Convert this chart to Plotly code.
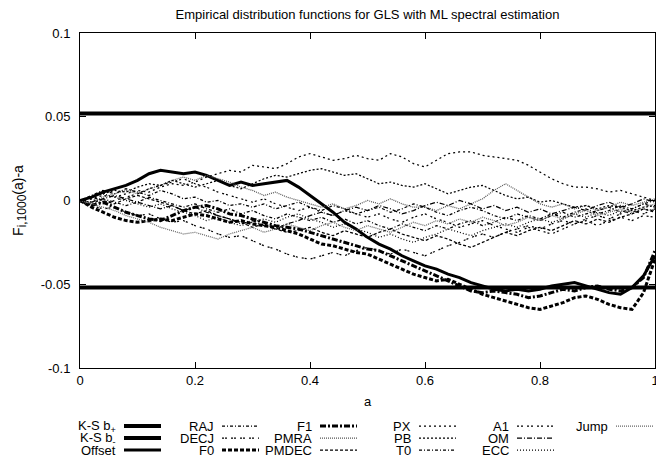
import plotly.graph_objects as go

# ---------------- data ----------------
a_vals = [round(i * 0.02, 2) for i in range(51)]

ks_names = ["K-S b<sub>+</sub>", "K-S b<sub>-</sub>"]
ks_bounds = [0.052, -0.052]

offset = [0, .002, .005, .007, .009, .012, .016, .018, .017, .016, .017, .015, .012, .009, .011, .009, .010, .011, .012, .008,
          .003, -.002, -.007, -.013, -.017, -.022, -.026, -.029, -.033, -.036, -.039, -.041, -.044, -.046, -.049, -.051,
          -.053, -.054, -.053, -.054, -.053, -.051, -.050, -.049, -.051, -.053, -.055, -.056, -.052, -.045, -.033]
f0 = [0, -.004, -.007, -.010, -.012, -.013, -.012, -.011, -.012, -.010, -.008, -.009, -.011, -.013, -.012, -.014, -.015, -.016, -.018, -.020,
      -.023, -.026, -.027, -.029, -.031, -.032, -.035, -.038, -.041, -.044, -.046, -.048, -.047, -.050, -.053, -.056,
      -.058, -.060, -.062, -.064, -.065, -.063, -.061, -.058, -.057, -.059, -.062, -.064, -.065, -.055, -.035]
f1 = [0, -.003, -.001, -.004, -.007, -.009, -.011, -.012, -.009, -.006, -.004, -.003, -.005, -.008, -.009, -.011, -.013, -.015, -.016, -.017,
      -.019, -.021, -.023, -.025, -.027, -.029, -.030, -.033, -.036, -.039, -.042, -.045, -.048, -.051, -.054, -.055,
      -.054, -.055, -.056, -.058, -.057, -.055, -.053, -.054, -.052, -.051, -.053, -.054, -.052, -.046, -.030]
raj = [0, -.002, .001, -.001, -.003, -.001, .002, .000, -.002, -.004, -.002, -.005, -.007, -.005, -.008, -.006, -.009, -.011, -.008, -.010,
       -.012, -.010, -.013, -.011, -.014, -.012, -.015, -.017, -.014, -.016, -.018, -.015, -.017, -.014, -.012, -.015,
       -.013, -.010, -.012, -.009, -.011, -.008, -.010, -.007, -.005, -.008, -.006, -.003, -.005, -.002, .000]
decj = [0, -.003, -.005, -.004, -.007, -.009, -.008, -.011, -.013, -.012, -.015, -.017, -.020, -.022, -.021, -.024, -.027, -.029, -.032, -.034,
        -.035, -.033, -.031, -.033, -.030, -.028, -.030, -.032, -.029, -.031, -.033, -.030, -.027, -.025, -.022, -.020,
        -.022, -.019, -.017, -.015, -.017, -.014, -.012, -.014, -.011, -.009, -.011, -.008, -.006, -.008, -.005]
pmra = [0, -.001, .002, .004, .006, .004, .007, .009, .012, .014, .012, .015, .013, .011, .008, .006, .003, .005, .002, .000,
        -.002, -.004, -.002, -.005, -.003, .000, -.002, .001, -.002, -.004, -.004, -.006, -.003, -.005, -.002, .001,
        .006, .010, .006, .002, -.002, -.004, -.002, -.005, -.003, -.006, -.004, -.001, -.003, -.001, .001]
pmdec = [0, .002, .000, -.002, .001, .003, .001, -.001, -.003, -.006, -.008, -.006, -.009, -.011, -.013, -.016, -.014, -.017, -.019, -.018,
         -.016, -.019, -.021, -.018, -.020, -.022, -.019, -.017, -.020, -.022, -.024, -.021, -.023, -.026, -.028, -.025,
         -.022, -.019, -.021, -.018, -.016, -.018, -.015, -.012, -.014, -.011, -.013, -.010, -.008, -.005, -.007]
px = [0, .001, .003, .002, .004, .006, .005, .008, .010, .009, .011, .014, .016, .018, .017, .021, .020, .019, .022, .026,
      .028, .026, .024, .025, .027, .025, .024, .028, .026, .022, .020, .024, .028, .029, .029, .027,
      .026, .025, .024, .021, .017, .013, .010, .008, .008, .007, .005, .006, .004, .002, .000]
pb = [0, .002, .004, .006, .005, .008, .010, .009, .012, .010, .008, .010, .012, .009, .007, .010, .013, .015, .014, .016,
      .018, .019, .017, .015, .016, .013, .010, .011, .009, .008, .010, .007, .004, .006, .008, .009,
      .006, .003, .001, .002, -.001, .000, -.002, -.004, -.003, -.005, -.003, -.004, -.006, -.004, -.003]
t0 = [0, .003, .006, .004, .007, .005, .003, .006, .004, .001, .002, -.001, .000, -.003, -.002, -.004, -.002, -.005, -.003, -.001,
      -.004, -.006, -.003, -.005, -.008, -.006, -.004, -.007, -.005, -.002, -.004, -.007, -.009, -.006, -.004, -.006,
      -.009, -.011, -.008, -.010, -.012, -.009, -.007, -.010, -.008, -.006, -.004, -.007, -.005, -.002, -.004]
a1 = [0, .001, -.002, .000, .002, .004, .007, .009, .011, .013, .010, .008, .005, .003, .001, -.001, .001, -.002, -.004, -.006,
      -.004, -.007, -.009, -.006, -.008, -.010, -.008, -.011, -.013, -.010, -.008, -.011, -.013, -.016, -.014, -.012,
      -.015, -.017, -.019, -.016, -.018, -.020, -.017, -.014, -.012, -.015, -.012, -.010, -.012, -.009, -.010]
om = [0, -.001, .001, .003, .001, -.001, -.003, -.005, -.003, -.006, -.004, -.007, -.009, -.011, -.014, -.012, -.015, -.017, -.014, -.012,
      -.009, -.007, -.009, -.006, -.004, -.006, -.003, -.005, -.008, -.006, -.003, -.001, -.003, .000, -.002, -.005,
      -.003, -.006, -.004, -.007, -.005, -.008, -.006, -.004, -.006, -.003, -.001, -.004, -.002, .001, -.001]
ecc = [0, .002, .004, .002, .000, -.002, -.004, -.002, -.005, -.007, -.009, -.012, -.010, -.013, -.015, -.013, -.011, -.013, -.010, -.008,
       -.011, -.013, -.016, -.014, -.017, -.019, -.022, -.020, -.023, -.025, -.022, -.020, -.017, -.019, -.021, -.018,
       -.016, -.014, -.016, -.013, -.011, -.013, -.011, -.008, -.010, -.007, -.009, -.006, -.008, -.005, -.006]
jump = [0, -.002, -.004, -.006, -.009, -.011, -.013, -.016, -.018, -.020, -.019, -.021, -.023, -.020, -.018, -.016, -.019, -.017, -.014, -.016,
        -.018, -.015, -.013, -.016, -.018, -.015, -.017, -.019, -.016, -.013, -.015, -.012, -.014, -.011, -.013, -.010,
        -.012, -.015, -.013, -.010, -.012, -.009, -.011, -.008, -.006, -.009, -.007, -.005, -.007, -.004, -.002]

series_names = ["Offset", "RAJ", "DECJ", "F0", "F1", "PMRA", "PMDEC", "PX", "PB", "T0", "A1", "OM", "ECC", "Jump"]
series_values = [offset, raj, decj, f0, f1, pmra, pmdec, px, pb, t0, a1, om, ecc, jump]

x_ticks = [0, 0.2, 0.4, 0.6, 0.8, 1]
x_ticktext = ["0", "0.2", "0.4", "0.6", "0.8", "1"]
y_ticks = [-0.1, -0.05, 0, 0.05, 0.1]
y_ticktext = ["-0.1", "-0.05", "0", "0.05", "0.1"]

# ---------------- styles ----------------
TW = 1.25
styles = {
    "K-S b<sub>+</sub>": dict(width=4, dash="solid", color="black"),
    "K-S b<sub>-</sub>": dict(width=4, dash="solid", color="black"),
    "Offset": dict(width=3, dash="solid", color="black"),
    "RAJ": dict(width=TW, dash="3px,2px,1px,2px", color="black"),
    "DECJ": dict(width=TW, dash="2px,1px,2px,4px", color="black"),
    "F0": dict(width=3, dash="4px,2px", color="black"),
    "F1": dict(width=3, dash="6px,2px,2px,2px", color="black"),
    "PMRA": dict(width=TW, dash="1px,1px", color="#555555"),
    "PMDEC": dict(width=TW, dash="3px,2px", color="black"),
    "PX": dict(width=TW, dash="2px,3px", color="black"),
    "PB": dict(width=TW, dash="2px,2px", color="black"),
    "T0": dict(width=TW, dash="3px,2px,1px,2px", color="black"),
    "A1": dict(width=TW, dash="2px,2px,2px,4px", color="black"),
    "OM": dict(width=TW, dash="5px,2px,1px,2px", color="black"),
    "ECC": dict(width=TW, dash="1px,2px", color="black"),
    "Jump": dict(width=TW, dash="1px,1px", color="#666666"),
}

FONT = "Liberation Sans, Arial"

# page body has an 8px margin, so the figure is drawn 8px in from the top-left
W, H = 656, 449
L, R, T, B = 72, 647, 25, 360

fig = go.Figure()

for nm, b in zip(ks_names, ks_bounds):
    fig.add_trace(go.Scatter(x=[0, 1], y=[b, b], mode="lines", name=nm,
                             line=styles[nm], showlegend=False))

for nm, vals in zip(series_names, series_values):
    fig.add_trace(go.Scatter(x=a_vals, y=vals, mode="lines", name=nm,
                             line=styles[nm], showlegend=False))

# ---------------- manual gnuplot-style key ----------------
legend_order = ["K-S b<sub>+</sub>", "K-S b<sub>-</sub>", "Offset",
                "RAJ", "DECJ", "F0",
                "F1", "PMRA", "PMDEC",
                "PX", "PB", "T0",
                "A1", "OM", "ECC",
                "Jump"]

def px_to_paper_x(p):
    return (p - L) / (R - L)

def px_to_paper_y(p):
    return (B - p) / (B - T)

col_right = [109, 207, 305, 404, 502, 601]
row_y = [418, 430, 442]
for i, nm in enumerate(legend_order):
    c, r = divmod(i, 3)
    xr = col_right[c]
    yy = row_y[r]
    fig.add_annotation(x=px_to_paper_x(xr), y=px_to_paper_y(yy), xref="paper", yref="paper",
                       text=nm, showarrow=False, xanchor="right", yanchor="middle",
                       borderpad=0,
                       font=dict(size=13, color="black", family=FONT))
    st = styles[nm]
    fig.add_shape(type="line", xref="paper", yref="paper",
                  x0=px_to_paper_x(xr + 7), x1=px_to_paper_x(xr + 44),
                  y0=px_to_paper_y(yy), y1=px_to_paper_y(yy),
                  line=dict(width=st["width"], dash=st["dash"], color=st["color"]))

fig.update_layout(
    width=W, height=H,
    margin=dict(l=L, r=W - R, t=T, b=H - B, autoexpand=False),
    paper_bgcolor="white", plot_bgcolor="white",
    font=dict(family=FONT, size=13, color="black"),
    title=dict(text="Empirical distribution functions for GLS with ML spectral estimation",
               x=0.5, xref="paper", y=1 - 6 / H, yref="container", yanchor="middle",
               font=dict(size=13)),
    showlegend=False,
)
fig.update_xaxes(range=[0, 1], tickvals=x_ticks, ticktext=x_ticktext,
                 ticks="inside", ticklen=6, tickcolor="black", mirror="ticks",
                 showline=True, linecolor="black", linewidth=1, showgrid=False, zeroline=False,
                 title=dict(text="a", standoff=10, font=dict(size=13)), tickfont=dict(size=13))
fig.update_yaxes(range=[-0.1, 0.1], tickvals=y_ticks, ticktext=y_ticktext,
                 ticks="inside", ticklen=6, tickcolor="black", mirror="ticks",
                 showline=True, linecolor="black", linewidth=1, showgrid=False, zeroline=False,
                 ticklabelstandoff=6,
                 title=dict(text="F<sub><span style='font-size:12px'>i,1000</span></sub>(a)-a",
                            standoff=13, font=dict(size=14)),
                 tickfont=dict(size=13))

fig.write_html("out.html")
